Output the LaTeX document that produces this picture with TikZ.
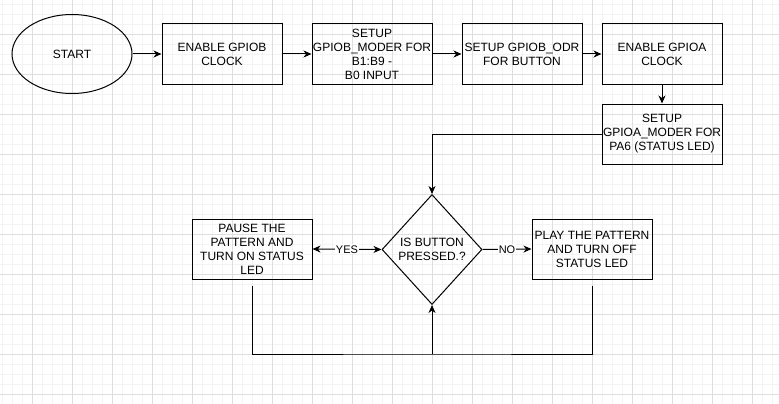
\documentclass[tikz,border=0pt]{standalone}
\usepackage{fontspec}
\setmainfont{Liberation Sans}
\usetikzlibrary{shapes.geometric,arrows.meta}
\definecolor{gridminor}{HTML}{F3F3F3}
\definecolor{gridmajor}{HTML}{DEDEDE}
\begin{document}
\begin{tikzpicture}[x=1pt,y=-1pt,
  every node/.style={font=\fontsize{12}{14}\selectfont, align=center, inner sep=0pt},
  box/.style={draw, line width=1pt, minimum width=120pt, minimum height=60pt},
  startshape/.style={draw, ellipse, line width=1pt, minimum width=120pt, minimum height=79pt},
  decision/.style={draw, diamond, line width=1pt, minimum width=100pt, minimum height=110pt},
  conn/.style={line width=1pt, -{Stealth[length=8pt,width=7pt,inset=2.5pt]}},
  biconn/.style={line width=1pt, {Stealth[length=8pt,width=7pt,inset=2.5pt]}-{Stealth[length=8pt,width=7pt,inset=2.5pt]}},
  plainline/.style={line width=1pt},
  lbl/.style={fill=white, font=\fontsize{11}{13}\selectfont, inner sep=1pt}
]
\useasboundingbox (0,0) rectangle (779,404);
\fill[white] (0,0) rectangle (779,404);
% grid
\foreach \gx in {2,12,...,772} \draw[gridminor, line width=0.8pt] (\gx,0) -- (\gx,404);
\foreach \gy in {4.3,14.3,...,404} \draw[gridminor, line width=0.8pt] (0,\gy) -- (779,\gy);
\foreach \gx in {32,72,...,772} \draw[gridmajor, line width=0.8pt] (\gx,0) -- (\gx,404);
\foreach \gy in {34.3,74.3,...,404} \draw[gridmajor, line width=0.8pt] (0,\gy) -- (779,\gy);

% nodes
\node[startshape] (start) at (72,54) {START};
\node[box] (engb) at (222,54) {ENABLE GPIOB\\CLOCK};
\node[box] (moderb) at (372,54) {SETUP\\GPIOB\_MODER FOR\\B1:B9 -\\B0 INPUT};
\node[box] (odrb) at (522,54) {SETUP GPIOB\_ODR\\FOR BUTTON};
\node[box] (enga) at (662,54) {ENABLE GPIOA\\CLOCK};
\node[box] (modera) at (662,134) {SETUP\\GPIOA\_MODER FOR\\PA6 (STATUS LED)};
\node[decision] (dia) at (432,249.5) {IS BUTTON\\PRESSED.?};
\node[box] (pause) at (252,249) {PAUSE THE\\PATTERN AND\\TURN ON STATUS\\LED};
\node[box] (play) at (592,249) {PLAY THE PATTERN\\AND TURN OFF\\STATUS LED};
\coordinate (loop) at (432,354);

% connectors
\draw[conn] (start) -- (engb);
\draw[conn] (engb) -- (moderb);
\draw[conn] (moderb) -- (odrb);
\draw[conn] (odrb) -- (enga);
\draw[conn] (enga) -- (modera);
\draw[conn] (modera.west) -| (dia.north);
\draw[biconn] (pause.east) -- node[lbl]{YES} (dia.west);
\draw[conn] (dia.east) -- node[lbl]{NO} (play.west);
\draw[plainline] ([yshift=-6pt]pause.south) |- (loop) -| ([yshift=-6pt]play.south);
\draw[conn] (loop) -- (dia.south);
\end{tikzpicture}
\end{document}
